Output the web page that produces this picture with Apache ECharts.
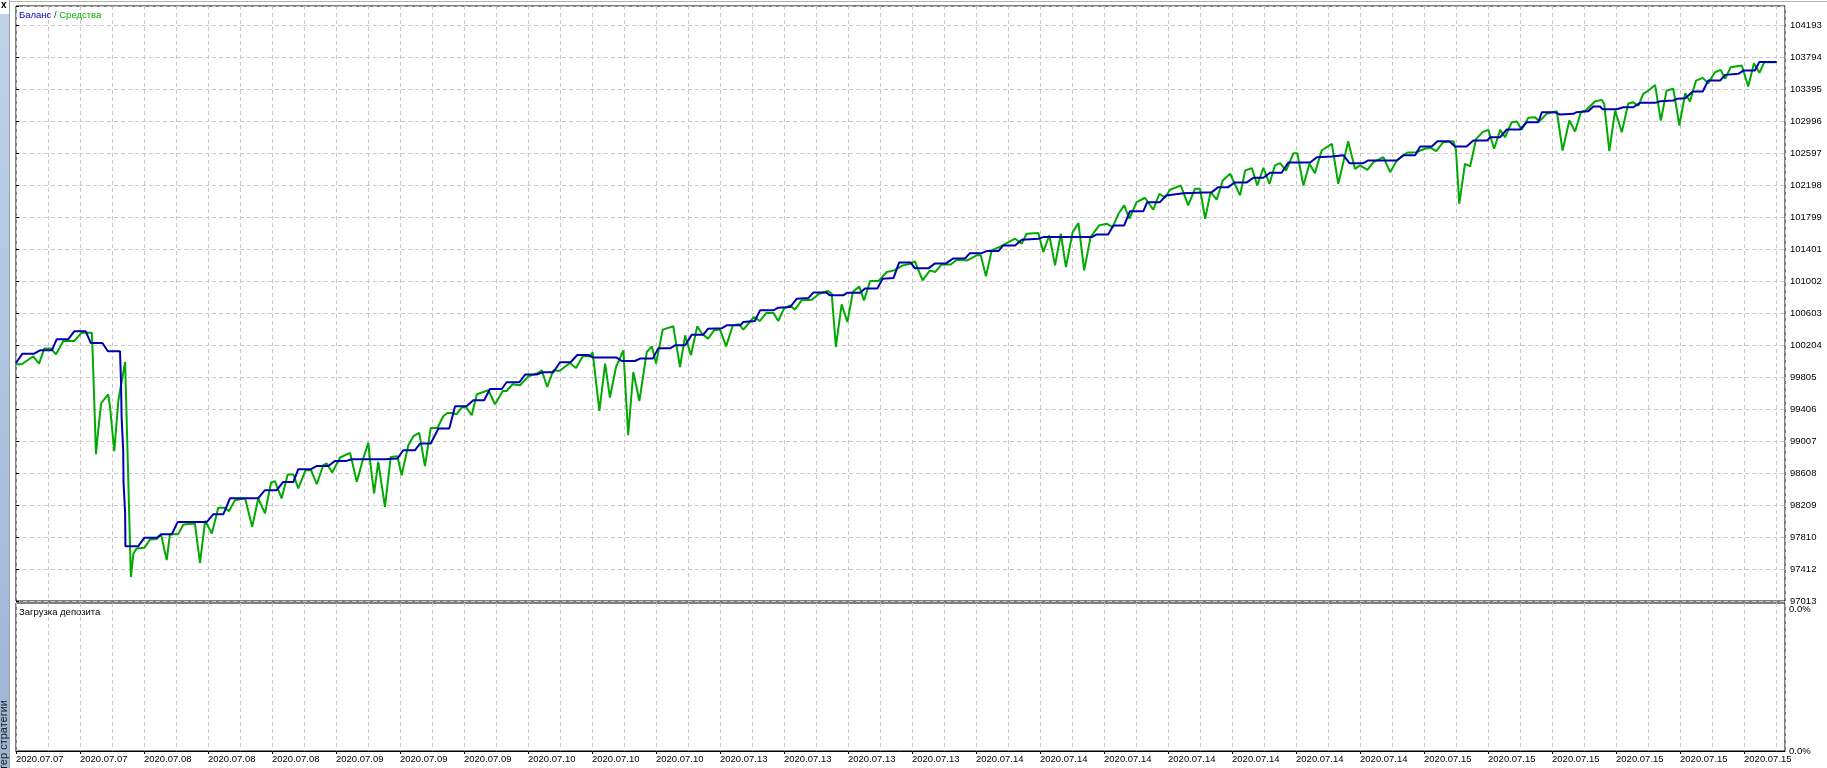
<!DOCTYPE html>
<html>
<head>
<meta charset="utf-8">
<script src="https://cdn.jsdelivr.net/npm/echarts@6/dist/echarts.min.js"></script>
<style>html,body{margin:0;padding:0;background:#fff;}#c{width:1827px;height:768px;}</style>
</head>
<body>
<div id="c"></div>
<script>
// x = step index (one unit = one vertical grid step), y = account value
const dateLabels = ['2020.07.07','2020.07.07','2020.07.08','2020.07.08','2020.07.08','2020.07.09','2020.07.09','2020.07.09',
  '2020.07.10','2020.07.10','2020.07.10','2020.07.13','2020.07.13','2020.07.13','2020.07.13',
  '2020.07.14','2020.07.14','2020.07.14','2020.07.14','2020.07.14','2020.07.14','2020.07.14',
  '2020.07.15','2020.07.15','2020.07.15','2020.07.15','2020.07.15','2020.07.15'];
const yTickLabels = ['97013','97412','97810','98209','98608','99007','99406','99805','100204','100603','101002',
  '101401','101799','102198','102597','102996','103395','103794','104193'];
const loadLabels = ['0.0%','0.0%'];

const balanceData = [
[0,99987],[0.2,100104],[0.57,100104],[0.75,100145],[1.12,100145],[1.27,100283],[1.63,100283],[1.82,100382],[2.18,100382],[2.34,100236],
[2.70,100236],[2.87,100133],[3.25,100133],[3.28,99772],[3.30,99314],[3.35,98899],[3.36,98504],[3.41,98110],[3.42,97702],[3.82,97702],
[4.01,97806],[4.40,97806],[4.55,97852],[4.87,97852],[5.05,98002],[5.96,98002],[6.17,98101],[6.48,98101],[6.69,98301],[7.57,98301],
[7.78,98400],[8.15,98400],[8.35,98504],[8.67,98504],[8.82,98662],[9.22,98662],[9.40,98703],[9.76,98703],[9.97,98766],[10.33,98766],
[10.49,98787],[11.53,98785],[11.58,98796],[11.92,98796],[12.10,98899],[12.47,98899],[12.63,98983],[12.96,98983],[13.20,99169],[13.54,99169],
[13.72,99447],[14.08,99447],[14.29,99522],[14.63,99522],[14.81,99663],[15.18,99663],[15.33,99747],[15.73,99747],[15.91,99843],[16.27,99843],
[16.46,99871],[16.79,99871],[17.00,99996],[17.33,99996],[17.54,100087],[17.88,100087],[18.04,100055],[18.77,100055],[18.93,100012],[19.34,100012],
[19.50,100042],[19.90,100042],[20.07,100170],[20.44,100170],[20.59,100208],[20.91,100208],[21.12,100341],[21.48,100341],[21.63,100416],[22.05,100420],
[22.21,100457],[22.63,100457],[22.73,100498],[23.09,100511],[23.25,100644],[23.67,100644],[23.82,100678],[24.19,100685],[24.40,100790],[24.76,100797],
[24.92,100868],[25.31,100868],[25.44,100831],[25.85,100831],[25.98,100865],[26.38,100865],[26.53,100918],[26.92,100918],[27.08,101039],[27.42,101047],
[27.60,101242],[27.96,101242],[28.09,101168],[28.51,101168],[28.72,101230],[29.06,101230],[29.29,101292],[29.66,101292],[29.81,101358],[30.18,101358],
[30.33,101383],[30.70,101383],[30.85,101454],[31.22,101454],[31.43,101525],[31.95,101538],[32.10,101558],[33.62,101558],[33.77,101591],[34.13,101591],
[34.29,101704],[34.63,101704],[34.81,101882],[35.23,101882],[35.35,101994],[35.75,101994],[35.94,102078],[36.48,102106],[37.37,102119],[37.57,102181],
[37.88,102181],[38.09,102240],[38.46,102240],[38.67,102298],[38.98,102298],[39.19,102361],[39.55,102361],[39.76,102489],[40.44,102489],[40.65,102555],
[41.12,102564],[41.48,102580],[41.67,102480],[42.10,102480],[42.26,102514],[43.15,102514],[43.35,102580],[43.72,102580],[43.88,102688],[44.24,102688],
[44.42,102754],[44.79,102754],[44.97,102688],[45.33,102688],[45.54,102763],[45.98,102763],[46.06,102804],[46.38,102804],[46.58,102900],[47.00,102900],
[47.21,102991],[47.57,102991],[47.68,103116],[48.09,103116],[48.25,103087],[48.67,103096],[48.77,103116],[49.13,103128],[49.29,103187],[49.50,103187],
[49.58,103153],[50.02,103153],[50.23,103178],[50.54,103178],[50.75,103233],[51.22,103233],[51.38,103253],[51.79,103262],[51.90,103283],[52.16,103290],
[52.40,103374],[52.71,103374],[52.88,103511],[53.25,103511],[53.41,103582],[53.82,103595],[53.98,103636],[54.34,103636],[54.48,103744],[55.02,103744]
];

const equityData = [
[0,99971],[0.18,99971],[0.54,100071],[0.72,99980],[0.88,100167],[1.09,100167],[1.25,100096],[1.48,100261],[1.82,100261],[2.05,100366],
[2.37,100366],[2.40,100062],[2.50,98849],[2.56,99111],[2.66,99485],[2.88,99597],[2.94,99435],[3.07,98887],[3.20,99522],[3.41,100000],
[3.44,99983],[3.59,97316],[3.67,97611],[3.77,97674],[4.01,97681],[4.19,97786],[4.40,97790],[4.53,97852],[4.71,97528],[4.81,97852],
[5.07,97852],[5.23,97973],[5.59,97985],[5.75,97494],[5.91,98018],[6.12,97861],[6.32,98180],[6.53,98180],[6.66,98139],[6.84,98276],
[7.16,98297],[7.38,97943],[7.57,98297],[7.78,98110],[7.97,98496],[8.09,98513],[8.30,98297],[8.49,98596],[8.67,98596],[8.82,98422],
[9.05,98650],[9.22,98650],[9.40,98475],[9.60,98712],[9.71,98733],[9.88,98621],[10.13,98808],[10.44,98865],[10.65,98504],[10.85,98796],
[11.01,98990],[11.06,98783],[11.19,98359],[11.32,98753],[11.53,98192],[11.71,98815],[11.92,98824],[12.05,98587],[12.26,98961],[12.42,99074],
[12.60,99115],[12.78,98700],[12.96,99177],[13.17,99177],[13.35,99323],[13.48,99364],[13.62,99364],[13.77,99348],[13.93,99431],[14.06,99439],
[14.24,99335],[14.40,99597],[14.76,99647],[14.97,99472],[15.21,99638],[15.33,99638],[15.52,99722],[15.75,99709],[16.01,99821],[16.32,99863],
[16.43,99896],[16.60,99688],[16.79,99896],[16.98,99887],[17.31,99987],[17.50,99925],[17.71,100071],[17.94,100071],[18.02,100121],[18.23,99389],
[18.41,99980],[18.56,99556],[18.75,99937],[18.98,100145],[19.13,99086],[19.29,99875],[19.48,99514],[19.71,100124],[19.87,100195],[20.00,99980],
[20.21,100404],[20.54,100445],[20.75,99937],[20.91,100332],[21.09,100083],[21.29,100445],[21.43,100354],[21.63,100291],[21.81,100395],[22.00,100404],
[22.19,100195],[22.40,100457],[22.60,100470],[22.73,100404],[23.06,100561],[23.25,100511],[23.44,100610],[23.67,100610],[23.82,100511],[24.00,100665],
[24.19,100706],[24.34,100653],[24.55,100769],[24.87,100777],[25.10,100852],[25.38,100885],[25.49,100852],[25.62,100187],[25.80,100719],[25.98,100498],
[26.15,100872],[26.35,100943],[26.50,100769],[26.69,101009],[26.95,101009],[27.21,101122],[27.44,101143],[27.71,101205],[27.96,101226],[28.09,101255],
[28.33,101018],[28.56,101143],[28.72,101122],[28.93,101217],[29.21,101217],[29.40,101276],[29.73,101267],[30.02,101330],[30.15,101330],[30.31,101068],
[30.49,101392],[30.77,101442],[31.22,101538],[31.43,101476],[31.58,101600],[31.95,101608],[32.10,101371],[32.29,101579],[32.47,101205],[32.65,101600],
[32.81,101184],[33.02,101620],[33.20,101732],[33.38,101143],[33.58,101558],[33.85,101704],[34.08,101725],[34.27,101682],[34.45,101849],[34.63,101953],
[34.79,101787],[35.02,101994],[35.28,102049],[35.54,101899],[35.73,102099],[35.91,102049],[36.06,102149],[36.40,102202],[36.63,101953],[36.84,102161],
[37.00,102161],[37.16,101787],[37.33,102119],[37.52,102024],[37.71,102265],[37.94,102348],[38.25,102078],[38.41,102389],[38.62,102418],[38.79,102202],
[38.98,102423],[39.17,102223],[39.34,102452],[39.50,102480],[39.69,102389],[39.92,102605],[40.04,102605],[40.23,102202],[40.42,102473],[40.59,102356],
[40.80,102638],[41.12,102722],[41.32,102223],[41.63,102754],[41.84,102410],[42.00,102452],[42.23,102398],[42.42,102493],[42.73,102555],[42.94,102368],
[43.15,102514],[43.48,102614],[43.75,102617],[44.03,102660],[44.21,102672],[44.38,102630],[44.60,102742],[44.92,102754],[45.00,102638],[45.10,101974],
[45.28,102473],[45.44,102439],[45.63,102784],[45.83,102867],[46.01,102896],[46.19,102660],[46.38,102896],[46.53,102804],[46.74,102991],[46.90,103000],
[47.05,102896],[47.26,103046],[47.47,103054],[47.60,103000],[47.83,103096],[48.15,103128],[48.33,102638],[48.54,103012],[48.72,102875],[48.90,103116],
[49.08,103146],[49.34,103249],[49.55,103270],[49.63,103221],[49.79,102630],[49.97,103137],[50.18,102867],[50.38,103221],[50.52,103241],[50.70,103199],
[50.85,103345],[51.01,103386],[51.22,103457],[51.40,103012],[51.58,103386],[51.79,103408],[51.98,102950],[52.16,103353],[52.31,103249],[52.50,103511],
[52.71,103545],[52.88,103477],[53.09,103615],[53.27,103644],[53.41,103532],[53.58,103677],[53.93,103698],[54.13,103436],[54.31,103727],[54.48,103607],
[54.63,103739],[55.02,103739]
];

// axis scales
const xMax = 55.28;
const yStep = 399.25;
const yMin = 243 * yStep;          // 97017.75, multiple of the step
const yMax = yMin + 18.59375 * yStep;

const FONT = 'Liberation Sans, Arial, sans-serif';
const gridLine = {show: true, lineStyle: {color: '#c8c8c8', type: [4, 3], width: 1}};

const chart = echarts.init(document.getElementById('c'), null, {renderer: 'canvas'});
chart.setOption({
  animation: false,
  backgroundColor: '#ffffff',
  textStyle: {fontFamily: FONT},
  title: [
    {text: '{b|Баланс} {s|/} {g|Средства}', left: 19, top: 10, padding: 0,
     textStyle: {fontSize: 9.5, fontWeight: 'normal', fontFamily: FONT,
       rich: {b: {color: '#0000c0', fontSize: 9.5, fontFamily: FONT},
              s: {color: '#203070', fontSize: 9.5, fontFamily: FONT},
              g: {color: '#00b000', fontSize: 9.5, fontFamily: FONT}}}},
    {text: 'Загрузка депозита', left: 19, top: 607, padding: 0,
     textStyle: {fontSize: 9.5, fontWeight: 'normal', color: '#000', fontFamily: FONT}}
  ],
  grid: [
    {left: 16, top: 6, width: 1769, height: 595, show: true, borderColor: '#000', borderWidth: 1, backgroundColor: 'transparent'},
    {left: 16, top: 603, width: 1769, height: 148, show: true, borderColor: '#000', borderWidth: 1, backgroundColor: 'transparent'}
  ],
  xAxis: [
    {type: 'value', gridIndex: 0, min: 0, max: xMax, interval: 1,
     axisLine: {show: false}, axisTick: {show: false}, axisLabel: {show: false}, splitLine: gridLine},
    {type: 'value', gridIndex: 1, min: 0, max: xMax, interval: 1,
     axisLine: {show: false}, axisTick: {show: false}, axisLabel: {show: false}, splitLine: gridLine},
    {type: 'value', gridIndex: 1, min: 0, max: xMax, interval: 2, position: 'bottom',
     axisLine: {show: true, lineStyle: {color: '#000', width: 1}},
     axisTick: {show: true, length: 3, lineStyle: {color: '#000'}},
     splitLine: {show: false},
     axisLabel: {show: true, margin: 3, align: 'left', color: '#000', fontSize: 9.5, fontFamily: FONT,
       showMaxLabel: false,
       formatter: function (v) {
         const i = Math.round(v / 2);
         return (Math.abs(v - i * 2) < 1e-6 && dateLabels[i]) ? dateLabels[i] : '';
       }}}
  ],
  yAxis: [
    {type: 'value', gridIndex: 0, position: 'right', min: yMin, max: yMax, interval: yStep,
     axisLine: {show: false},
     axisTick: {show: true, length: 3, inside: false, lineStyle: {color: '#000'}},
     splitLine: gridLine,
     axisLabel: {show: true, margin: 5, color: '#000', fontSize: 9.5, fontFamily: FONT,
       formatter: function (v) {
         const i = Math.round((v - yMin) / yStep);
         return yTickLabels[i] || '';
       }}},
    {type: 'value', gridIndex: 1, position: 'right', min: 0, max: 1, interval: 1,
     axisLine: {show: false}, axisTick: {show: false}, splitLine: {show: false},
     axisLabel: {show: true, margin: 4, color: '#000', fontSize: 9.5, fontFamily: FONT,
       formatter: function (v) {
         return v >= 1 ? '{t|' + loadLabels[0] + '}' : loadLabels[1];
       },
       rich: {t: {padding: [12, 0, 0, 0], fontSize: 9.5, color: '#000', fontFamily: FONT}}}}
  ],
  series: [
    {name: 'Средства', type: 'line', xAxisIndex: 0, yAxisIndex: 0, data: equityData,
     showSymbol: false, symbol: 'none', z: 2, lineStyle: {color: '#00aa00', width: 2}, itemStyle: {color: '#00aa00'}},
    {name: 'Баланс', type: 'line', xAxisIndex: 0, yAxisIndex: 0, data: balanceData,
     showSymbol: false, symbol: 'none', z: 3, lineStyle: {color: '#0000b0', width: 2}, itemStyle: {color: '#0000b0'}}
  ],
  graphic: [
    {type: 'rect', left: 0, top: 14, shape: {width: 9, height: 754}, silent: true,
     style: {fill: new echarts.graphic.LinearGradient(0, 0, 0, 1, [{offset: 0, color: '#bed2ea'}, {offset: 1, color: '#9cb4d6'}])}},
    {type: 'line', shape: {x1: 9.5, y1: 0, x2: 9.5, y2: 768}, silent: true, style: {stroke: '#a0a0a0', lineWidth: 1}},
    {type: 'line', shape: {x1: 10, y1: 1.5, x2: 1827, y2: 1.5}, silent: true, style: {stroke: '#b4b4b4', lineWidth: 1}},
    {type: 'text', x: 1, y: 0, silent: true, style: {text: 'x', font: 'bold 10px ' + FONT, fill: '#000'}},
    {type: 'text', x: 4, y: 700, rotation: Math.PI / 2, silent: true,
     style: {text: 'Тестер стратегии', font: '11px ' + FONT, fill: '#1a1a1a', align: 'right', verticalAlign: 'middle'}}
  ]
});
</script>
</body>
</html>
